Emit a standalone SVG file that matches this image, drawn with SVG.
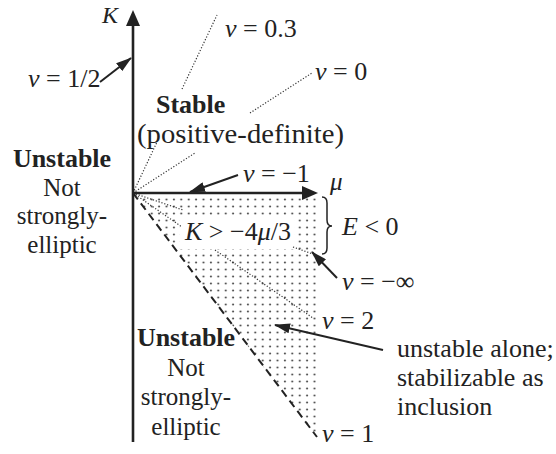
<svg xmlns="http://www.w3.org/2000/svg" width="556" height="454" viewBox="0 0 556 454">
<style>
text{font-family:"Liberation Serif","Times New Roman",serif;font-size:26px;fill:#222}
.b{font-weight:bold}
.i{font-style:italic}
.s{font-size:25px}
.ax{stroke:#222;stroke-width:2.6;fill:none}
.dot{stroke:#333;stroke-width:1.2;stroke-dasharray:1.2 1.8;fill:none}
.dash{stroke:#222;stroke-width:2;stroke-dasharray:8 5;fill:none}
.arr{stroke:#222;stroke-width:2;fill:none;marker-end:url(#ah)}
</style>
<defs>
<pattern id="dots" x="0" y="0" width="7.4" height="7" patternUnits="userSpaceOnUse">
<circle cx="3.7" cy="3.5" r="1.1" fill="#555"/>
</pattern>
<marker id="ah" viewBox="0 0 16 10" refX="15" refY="5" markerWidth="16" markerHeight="10" markerUnits="userSpaceOnUse" orient="auto">
<path d="M0,0 L16,5 L0,10 Z" fill="#222"/>
</marker>
</defs>
<rect width="556" height="454" fill="#fff"/>
<g id="region">
<path d="M134,194 L316,194 L316,437 Z" fill="url(#dots)"/>
<rect x="180" y="218" width="114" height="31" fill="#fff"/>
</g>
<g id="connectors">
<path class="dot" d="M133,193 L157,142 M182,89 L217,15"/>
<path class="dot" d="M133,193 L195,153 M250,113 L312,73"/>
<path class="dot" d="M133,193 L183,210 M293,247 L313,254"/>
<path class="dot" d="M133,193 L182,227 M215,250 L313,318"/>
<path class="dash" d="M133,193 L317,437"/>
<path class="arr" d="M100,82 L131,58"/>
<path class="arr" d="M238,175 L190,192"/>
<path class="arr" d="M337,278 L312,252"/>
<path class="arr" d="M383,350 L275,325"/>
<path d="M322,197 Q327,197 327,203 L327,220 Q327,226 332,226 Q327,226 327,232 L327,248 Q327,254 322,254" stroke="#222" stroke-width="1.5" fill="none"/>
</g>
<g id="axes">
<path class="ax" d="M133,442 L133,22"/>
<path d="M133,10 L140,26 L126,26 Z" fill="#222"/>
<path class="ax" d="M133,193 L306,193"/>
<path d="M318,193 L302,186 L302,200 Z" fill="#222"/>
<text class="i" x="102" y="23" style="font-size:24px">K</text>
<text class="i" x="330" y="190" style="font-size:25px">μ</text>
</g>
<g id="labels-top">
<text class="i" x="225" y="37">ν<tspan style="font-style:normal"> = 0.3</tspan></text>
<text class="i" x="315" y="80">ν<tspan style="font-style:normal"> = 0</tspan></text>
<text class="i" x="28" y="87">ν<tspan style="font-style:normal"> = 1/2</tspan></text>
</g>
<g id="stable">
<text class="b" x="156" y="113">Stable</text>
<text x="137" y="143" textLength="207" lengthAdjust="spacingAndGlyphs" style="font-size:27px">(positive-definite)</text>
</g>
<g id="unstable-left">
<text class="b" x="62" y="167" text-anchor="middle">Unstable</text>
<text class="s" x="62" y="196" text-anchor="middle">Not</text>
<text class="s" x="62" y="224" text-anchor="middle">strongly-</text>
<text class="s" x="62" y="253" text-anchor="middle">elliptic</text>
</g>
<g id="labels-right">
<text class="i" x="243" y="182">ν<tspan style="font-style:normal"> = −1</tspan></text>
<text class="i" x="342" y="235">E<tspan style="font-style:normal"> &lt; 0</tspan></text>
<text class="i" x="342" y="290">ν<tspan style="font-style:normal"> = −∞</tspan></text>
<text class="i" x="185" y="240">K<tspan style="font-style:normal"> &gt; −4</tspan>μ<tspan style="font-style:normal">/3</tspan></text>
<text class="i" x="322" y="329">ν<tspan style="font-style:normal"> = 2</tspan></text>
<text class="i" x="322" y="442">ν<tspan style="font-style:normal"> = 1</tspan></text>
</g>
<g id="unstable-bottom">
<text class="b" x="186" y="346" text-anchor="middle">Unstable</text>
<text class="s" x="186" y="376" text-anchor="middle">Not</text>
<text class="s" x="186" y="405" text-anchor="middle">strongly-</text>
<text class="s" x="186" y="435" text-anchor="middle">elliptic</text>
</g>
<g id="note">
<text x="397" y="357">unstable alone;</text>
<text x="397" y="386">stabilizable as</text>
<text x="397" y="415">inclusion</text>
</g>
</svg>
